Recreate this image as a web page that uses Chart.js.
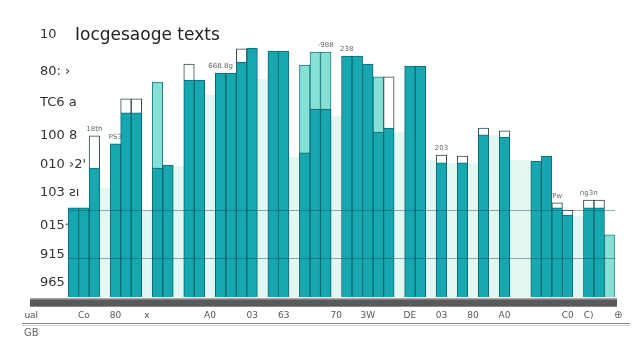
<!DOCTYPE html>
<html><head><meta charset="utf-8">
<script src="https://cdn.jsdelivr.net/npm/chart.js@4.4.1/dist/chart.umd.min.js"></script>
<style>
html,body{margin:0;padding:0;background:#fff;}
#wrap{position:relative;width:640px;height:360px;overflow:hidden;}
#c{position:absolute;left:0;top:0;}
.t{position:absolute;font-family:"DejaVu Sans",sans-serif;color:#222;white-space:nowrap;}
</style></head><body>
<div id="wrap"><canvas id="c" width="640" height="360"></canvas>
<div class="t" id="title" style="left:75px;top:24px;font-size:17px;">Iocgesaoge texts</div>
<div class="t" style="left:24px;top:327px;font-size:10px;color:#666;">GB</div>
<div class="t" style="left:614px;top:309px;font-size:10px;color:#666;">⊕</div>
</div>
<script>
// ---- data ----
const categories = ["ual","","","","","Co","","","80","","","x","","","","","","A0","","","","03","","","63","","","","","70","","","3W","","","","DE","","","03","","","80","","","A0","","","","","","C0","","C)","",""];
const darkValues = [null,null,null,null,28.7,28.7,41.5,null,49.3,59.3,59.3,null,41.5,42.5,null,69.9,69.9,null,72.1,72.1,75.7,80.2,null,79.2,79.2,null,46.4,60.5,60.5,null,77.6,77.6,75.0,53.1,54.4,null,74.4,74.4,null,43.2,null,43.2,null,52.2,null,51.5,null,null,43.8,45.4,28.7,26.4,null,28.7,28.7,null];
const lightValues = [null,null,null,null,null,null,null,null,null,null,null,null,69.2,null,null,null,null,null,null,null,null,null,null,null,null,null,74.7,78.9,78.9,null,null,null,null,70.9,null,null,null,null,null,null,null,null,null,null,null,null,null,null,null,null,null,null,null,null,null,20.0];
const boxTops = [null,null,null,null,null,null,51.9,null,null,63.8,63.8,null,null,null,null,75.0,null,null,null,null,79.9,null,null,null,null,null,null,null,null,null,null,null,null,null,70.9,null,null,null,null,45.7,null,45.4,null,54.4,null,53.5,null,null,null,null,30.3,28.0,null,31.2,31.2,null];
const paleValues = [null,null,null,null,null,null,null,35,null,null,null,28,null,null,42,null,null,65,null,null,null,null,70,null,null,45,null,null,null,58,null,null,null,null,null,53,null,null,44,null,43,null,43,null,52,null,44,44,null,null,null,null,26,null,null,null];
const yTickValues = [4.5,13.5,23,33.5,42.5,52,62.5,72.5,84.5];
const yTickLabels = ["965","915","015·","103 ƨı","010 ›2'","100 8","TC6 a","80: ›","10"];
const bandLines = [12.6,28.0];
const noteSlots = [6, 8, 18, 28, 30, 39, 50, 53];
const noteTexts = ["18th", "PS3", "668.8g", "-988", "238", "203", "Pw", "ng3n"];

const boxData = boxTops.map((t,i)=> t==null ? null : [darkValues[i], t]);

const deco = {
  id:'deco',
  afterDatasetsDraw(chart){
    const {ctx, chartArea:a, scales} = chart;
    const y = scales.y, x = scales.x;
    const slotW = (a.right-a.left)/categories.length;
    const x0 = x.getPixelForTick(4) - slotW/2;
    ctx.save();
    ctx.strokeStyle='rgba(10,80,90,0.45)'; ctx.lineWidth=1;
    bandLines.forEach(v=>{const py=Math.round(y.getPixelForValue(v))+0.5; ctx.beginPath(); ctx.moveTo(x0,py); ctx.lineTo(a.right,py); ctx.stroke();});
    const by = a.bottom+1;
    ctx.fillStyle='#5a5a5a'; ctx.fillRect(a.left+4, by, a.right-a.left-2, 9);
    ctx.fillStyle='#a8a8a8'; ctx.fillRect(a.left+4, by, a.right-a.left-2, 1.5);
    ctx.fillStyle='#8a8a8a'; ctx.fillRect(a.left+4, by+8, a.right-a.left-2, 1);
    ctx.fillStyle='#888'; ctx.fillRect(22, 323, 608, 1);
    ctx.fillStyle='#d0d0d0'; ctx.fillRect(22, 325, 608, 1);
    ctx.fillStyle='#666'; ctx.font='7px "DejaVu Sans"'; ctx.textAlign='center'; ctx.textBaseline='bottom';
    noteSlots.forEach((s,k)=>{
      const top = Math.max(darkValues[s]||0, lightValues[s]||0, boxTops[s]||0);
      ctx.fillText(noteTexts[k], x.getPixelForTick(s), y.getPixelForValue(top)-3);
    });
    ctx.restore();
  }
};

new Chart(document.getElementById('c'), {
  type:'bar',
  data:{
    labels: categories,
    datasets:[
      {label:'main', data: darkValues, backgroundColor:'#17a7b1', borderColor:'#0d6870', borderWidth:1, barPercentage:1, categoryPercentage:1, order:1},
      {label:'box', data: boxData, backgroundColor:'#ffffff', borderColor:'#33474a', borderWidth:1, barPercentage:1, categoryPercentage:1, order:2},
      {label:'light', data: lightValues, backgroundColor:'#86e0d6', borderColor:'#1a7c82', borderWidth:1, barPercentage:1, categoryPercentage:1, order:3},
      {label:'pale', data: paleValues, backgroundColor:'#e2f6f2', borderWidth:0, barPercentage:1, categoryPercentage:1, order:4}
    ]
  },
  options:{
    responsive:false, animation:false,
    layout:{padding:{top:30,left:26,right:25,bottom:38}},
    plugins:{legend:{display:false}, tooltip:{enabled:false}, title:{display:false}},
    scales:{
      x:{stacked:true, grid:{display:false}, border:{display:false},
         afterFit(s){ s.height = 25; },
         ticks:{autoSkip:false, maxRotation:0, padding:5, color:'#555', font:{family:'DejaVu Sans', size:9}}},
      y:{stacked:false, min:0, max:86, grid:{display:false}, border:{display:false},
         afterFit(s){ s.width = 0; },
         afterBuildTicks(s){ s.ticks = yTickValues.map(v=>({value:v})); },
         ticks:{mirror:true, padding:14, color:'#333', font:{family:'DejaVu Sans', size:13},
           callback:(v,i)=>yTickLabels[i]}}
    }
  },
  plugins:[deco]
});
</script>
</body></html>
